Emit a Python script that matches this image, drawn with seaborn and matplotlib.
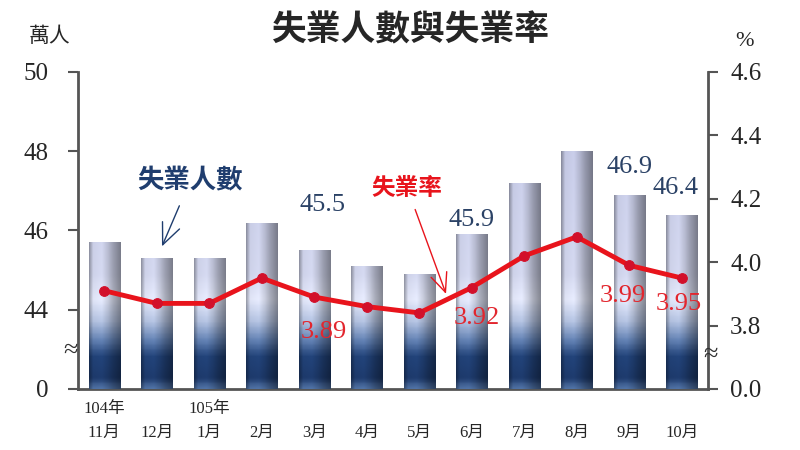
import numpy as np
import pandas as pd
import seaborn as sns
import matplotlib.pyplot as plt
import matplotlib.transforms as mtransforms
from matplotlib.colors import LinearSegmentedColormap

# Data
months = ['11月', '12月', '1月', '2月', '3月', '4月',
          '5月', '6月', '7月', '8月', '9月', '10月']
years = ['104年', '', '105年', '', '', '', '', '', '', '', '', '']
unemployed = [45.7, 45.3, 45.3, 46.2, 45.5, 45.1,
              44.9, 45.9, 47.2, 48.0, 46.9, 46.4]      # 萬人
rate = [3.91, 3.87, 3.87, 3.95, 3.89, 3.86,
        3.84, 3.92, 4.02, 4.08, 3.99, 3.95]            # %

# which points get a value label
bar_label_idx = [4, 7, 10, 11]
rate_label_idx = [4, 7, 10, 11]

# broken axes: lowest tick stands for 0
left_ticks = [42, 44, 46, 48, 50]
left_labels = ['0', '44', '46', '48', '50']
right_ticks = [3.6, 3.8, 4.0, 4.2, 4.4, 4.6]
right_labels = ['0.0', '3.8', '4.0', '4.2', '4.4', '4.6']

df = pd.DataFrame({'月份': months, '失業人數': unemployed, '失業率': rate})

sns.set_style('white')
plt.rcParams['font.family'] = ['Liberation Serif', 'Noto Sans CJK TC', 'DejaVu Sans']
cjk = ['Noto Sans CJK TC', 'DejaVu Sans']

fig = plt.figure(figsize=(8, 4.5), dpi=100)
ax = fig.add_axes([0.0975, 0.1356, 0.7875, 0.7044])

sns.barplot(data=df, x='月份', y='失業人數', color='#b9bdd9', width=0.6,
            saturation=1, ax=ax, zorder=2)
ax.set_ylim(42, 50)
ax.set_xlim(-0.5, 11.5)

# gradient fill for the bars (absolute vertical shading + cylinder shading)
vcmap = LinearSegmentedColormap.from_list('barv', [
    (0.0, '#4a6a9a'), (0.03, '#1c3766'), (0.10, '#203f72'),
    (0.15, '#5d7aa9'), (0.21, '#a9b7d4'), (0.28, '#d8dced'),
    (0.36, '#c6cae0'), (1.0, '#b4b8d5')])
yy = np.linspace(1, 0, 200)
u = np.linspace(0, 1, 40)
hfac = np.interp(u, [0, 0.12, 0.4, 0.6, 0.75, 1.0], [0.72, 1.04, 1.08, 0.94, 0.8, 0.62])
base = vcmap(yy)[:, :3]
img = np.clip(base[:, None, :] * hfac[None, :, None], 0, 1)
for p in ax.patches:
    x0 = p.get_x()
    x1 = x0 + p.get_width()
    im = ax.imshow(img, extent=(x0, x1, 42, 50), aspect='auto', zorder=3,
                   interpolation='bilinear')
    im.set_clip_path(p)
ax.set_ylim(42, 50)
ax.set_xlim(-0.5, 11.5)

# bar value labels
bar_offsets = {4: (8, 45), 7: (0, 14), 10: (0, 28), 11: (-6, 27)}
for i in bar_label_idx:
    ax.annotate(f'{unemployed[i]:.1f}', xy=(i, unemployed[i]), xytext=bar_offsets[i],
                textcoords='offset pixels', ha='center', va='center',
                fontsize=19, color='#2b4266', zorder=5)

ax.set_yticks(left_ticks)
ax.set_yticklabels(left_labels)
ax.set_xlabel('')
ax.set_ylabel('')
ax.set_xticks(range(len(months)))
ax.set_xticklabels(months)
ax.set_xticks(np.arange(0.5, len(months) - 1, 1), minor=True)

# rate line on a twin axis
ax2 = ax.twinx()
sns.lineplot(x=np.arange(len(months)), y=rate, ax=ax2, color='#e8141c',
             linewidth=3.5, marker='o', markersize=7,
             markerfacecolor='#d2102a', markeredgecolor='#d2102a', zorder=4)
ax2.set_ylim(3.6, 4.6)
ax2.set_xlim(-0.5, 11.5)
ax2.set_yticks(right_ticks)
ax2.set_yticklabels(right_labels)
ax2.set_ylabel('')

rate_offsets = {4: (10, -35), 7: (5, -30), 10: (-6, -31), 11: (-3, -26)}
for i in rate_label_idx:
    ax2.annotate(f'{rate[i]:.2f}', xy=(i, rate[i]), xytext=rate_offsets[i],
                 textcoords='offset pixels', ha='center', va='center',
                 fontsize=19, color='#e2262e', zorder=6)

# spines and ticks
axis_color = '#555555'
for a in (ax, ax2):
    a.spines['top'].set_visible(False)
    for s in ['left', 'right', 'bottom']:
        a.spines[s].set_color(axis_color)
        a.spines[s].set_linewidth(2)
ax.spines['right'].set_visible(False)
ax2.spines['left'].set_visible(False)
ax2.spines['bottom'].set_visible(False)

ax.tick_params(axis='y', direction='out', length=7, width=1.5, color=axis_color,
               labelsize=18, pad=14)
ax2.tick_params(axis='y', direction='out', length=7, width=1.5, color=axis_color,
                labelsize=18, pad=9)
ax.tick_params(axis='x', which='major', length=0, pad=26, labelsize=12)
ax.tick_params(axis='x', which='minor', direction='in', length=5, width=1.5,
               color=axis_color)

# year labels above first-month ticks
trans = mtransforms.blended_transform_factory(ax.transData, ax.transAxes)
for i, yr in enumerate(years):
    if yr:
        ax.text(i, -0.062, yr, transform=trans, ha='center', va='center',
                fontsize=12)

# axis-break marks
ax.text(-0.012, 0.12, '≈', transform=ax.transAxes, ha='center', va='center',
        fontsize=19, color='#333333')
ax2.text(1.004, 0.106, '≈', transform=ax2.transAxes, ha='center', va='center',
         fontsize=19, color='#333333')

# series callouts
ax.annotate('失業人數', xy=(1.1, 45.6), xytext=(1.63, 47.24),
            ha='center', va='center', fontsize=19, fontweight='bold',
            color='#1f3d6e', family=cjk,
            arrowprops=dict(arrowstyle='->,head_length=0.8,head_width=0.35',
                            color='#1f3d6e', lw=1, shrinkA=6, shrinkB=0))
ax2.annotate('失業率', xy=(6.51, 3.90), xytext=(5.77, 4.235),
             ha='center', va='center', fontsize=17, fontweight='bold',
             color='#e8141c', family=cjk,
             arrowprops=dict(arrowstyle='->,head_length=0.8,head_width=0.35',
                             color='#e8141c', lw=1, shrinkA=5, shrinkB=0))

# titles and units
fig.text(0.5125, 0.933, '失業人數與失業率', ha='center', va='center',
         fontsize=25, fontweight='bold', family=cjk)
fig.text(0.0625, 0.92, '萬人', ha='center', va='center', fontsize=15, family=cjk)
fig.text(0.931, 0.907, '%', ha='center', va='center', fontsize=16)

fig.savefig('out.png', dpi=100)
plt.close(fig)
